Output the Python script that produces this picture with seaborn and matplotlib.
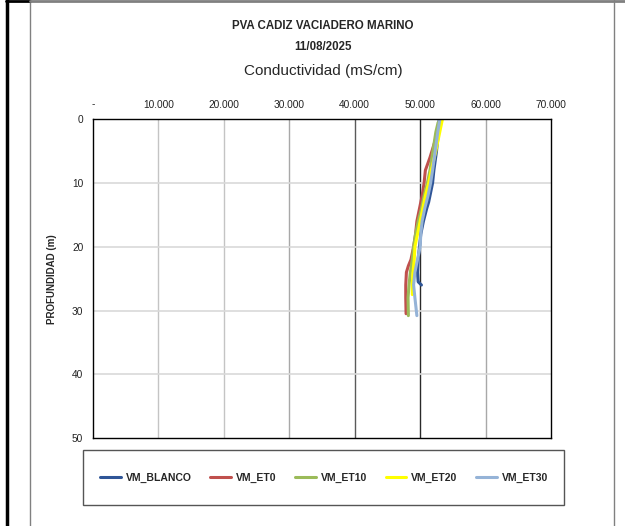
import matplotlib
matplotlib.use("Agg")
import matplotlib.pyplot as plt
from matplotlib.lines import Line2D
from matplotlib.patches import Rectangle
import seaborn as sns
import pandas as pd

# ---- data ----
series_names = ["VM_BLANCO", "VM_ET0", "VM_ET10", "VM_ET20", "VM_ET30"]
series_colors = ["#2F5597", "#C0504D", "#9BBB59", "#FFFF00", "#95B3D7"]

depth_blanco = [0, 2, 5, 8, 10, 12, 13, 14, 16, 18, 20, 22, 24, 25.5, 26]
cond_blanco = [52900, 52800, 52500, 52100, 51900, 51500, 51300, 51000, 50500, 50100, 49900, 49700, 49600, 49700, 50200]

depth_et0 = [0, 2, 4, 6, 8, 10, 12, 14, 16, 18, 20, 22, 23, 24, 26, 28, 30.5]
cond_et0 = [53200, 52700, 52100, 51500, 50800, 50600, 50300, 49900, 49500, 49300, 49000, 48600, 48200, 47900, 47800, 47800, 47850]

depth_et10 = [0.5, 2, 4, 6, 8, 10, 12, 14, 16, 18, 20, 22, 24, 26, 28, 30.8]
cond_et10 = [52750, 52400, 52100, 51800, 51500, 51100, 50600, 50200, 49700, 49300, 49000, 48800, 48500, 48300, 48150, 48200]

depth_et20 = [0, 2, 5, 8, 10, 12, 14, 16, 18, 20, 22, 24, 26, 27.5]
cond_et20 = [53400, 53000, 52400, 51700, 51300, 50800, 50400, 50000, 49600, 49200, 49100, 48900, 48800, 48800]

depth_et30 = [0, 2, 5, 8, 10, 12, 14, 16, 18, 20, 22, 24, 26, 28, 30.8]
cond_et30 = [53000, 52700, 52300, 51900, 51600, 51200, 50700, 50300, 50100, 50000, 49600, 49200, 49000, 49200, 49500]

x_ticks = [0, 10000, 20000, 30000, 40000, 50000, 60000, 70000]
x_tick_labels = ["-", "10.000", "20.000", "30.000", "40.000", "50.000", "60.000", "70.000"]
y_ticks = [0, 10, 20, 30, 40, 50]

title_lines = ["PVA CADIZ VACIADERO MARINO", "11/08/2025"]
chart_title = "Conductividad (mS/cm)"
y_label = "PROFUNDIDAD (m)"

# ---- table ----
frames = []
for name, d, c in zip(series_names,
                      [depth_blanco, depth_et0, depth_et10, depth_et20, depth_et30],
                      [cond_blanco, cond_et0, cond_et10, cond_et20, cond_et30]):
    frames.append(pd.DataFrame({"serie": name, "depth": d, "cond": c}))
df = pd.concat(frames, ignore_index=True)

sns.set_theme(style="white")
plt.rcParams["font.family"] = ["Liberation Sans", "DejaVu Sans"]

fig = plt.figure(figsize=(6.25, 5.26), dpi=100)
ax = fig.add_axes([93 / 625, 1 - 438 / 526, (551 - 93) / 625, (438 - 119.3) / 526])

# gridlines
grid_cols = ["#c4c4c4", "#c4c4c4", "#a8a8a8", "#5a5a5a", "#2a2a2a", "#a8a8a8"]
for xv, gc in zip(x_ticks[1:-1], grid_cols):
    ax.axvline(xv, color=gc, lw=1, zorder=0)
for yv in y_ticks[1:-1]:
    ax.axhline(yv, color="#d9d9d9", lw=1.2, zorder=0)

sns.lineplot(data=df, x="cond", y="depth", hue="serie", hue_order=series_names,
             palette=series_colors, sort=False, estimator=None, lw=2.2,
             legend=False, ax=ax)

ax.set_xlim(0, 70000)
ax.set_ylim(50, 0)
ax.xaxis.tick_top()
ax.set_xticks(x_ticks)
ax.set_xticklabels(x_tick_labels, fontsize=7.3)
ax.set_yticks(y_ticks)
ax.set_yticklabels([str(v) for v in y_ticks], fontsize=7.3)
ax.tick_params(axis="both", length=0, pad=7, colors="#222222")
ax.set_xlabel("")
ax.set_ylabel(y_label, fontsize=7, fontweight="bold", labelpad=11)
for s in ax.spines.values():
    s.set_color("#000000")
    s.set_linewidth(1.0)

# titles
fig.text(0.517, 1 - 26 / 526, title_lines[0], ha="center", va="center", fontsize=8.3, fontweight="bold")
fig.text(0.517, 1 - 46.5 / 526, title_lines[1], ha="center", va="center", fontsize=8.3, fontweight="bold")
fig.text(0.517, 1 - 71 / 526, chart_title, ha="center", va="center", fontsize=11)

# legend box
fig.patches.append(Rectangle((83 / 625, 1 - 505 / 526), (564 - 83) / 625, 55 / 526,
                             transform=fig.transFigure, fill=False, edgecolor="#555555", lw=1))
handles = [Line2D([0], [0], color=c, lw=2.2) for c in series_colors]
leg = fig.legend(handles, series_names, loc="center", bbox_to_anchor=(324 / 625, 1 - 478 / 526),
                 ncol=5, frameon=False, handlelength=2.0, columnspacing=1.8, handletextpad=0.45,
                 prop={"size": 7.5, "weight": "bold"})

# outer borders
fig.add_artist(Line2D([7 / 625, 7 / 625], [0, 1], color="black", lw=2.5, transform=fig.transFigure))
fig.add_artist(Line2D([29.5 / 625, 29.5 / 625], [0, 1], color="#808080", lw=1, transform=fig.transFigure))
fig.add_artist(Line2D([613.5 / 625, 613.5 / 625], [0, 1], color="#808080", lw=1, transform=fig.transFigure))
fig.add_artist(Line2D([6 / 625, 29.5 / 625], [0.999, 0.999], color="black", lw=2, transform=fig.transFigure))
fig.add_artist(Line2D([29.5 / 625, 1], [0.999, 0.999], color="#808080", lw=2, transform=fig.transFigure))

fig.savefig("out.png", dpi=100)
